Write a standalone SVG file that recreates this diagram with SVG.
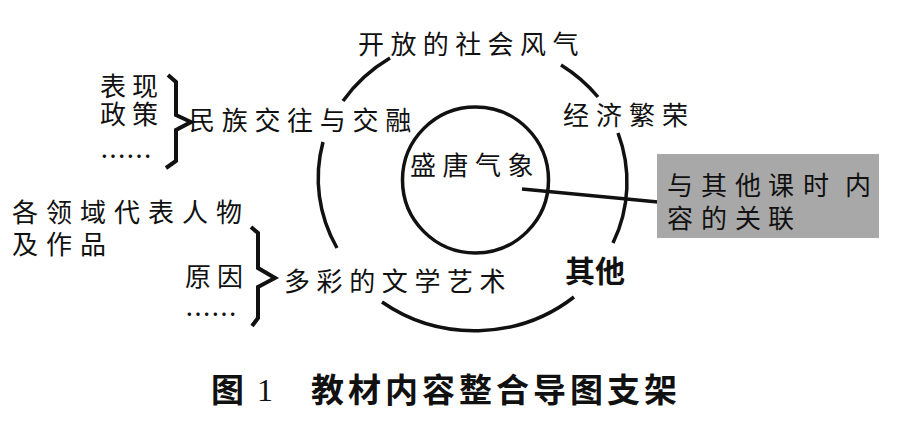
<svg xmlns="http://www.w3.org/2000/svg" width="910" height="424" viewBox="0 0 910 424">
<style>
.t{font-family:"Noto Sans CJK SC","Noto Sans CJK JP",sans-serif;font-size:26px;fill:#111}
.b{font-family:"Noto Sans CJK SC",sans-serif;font-weight:bold;fill:#111}
.ln{fill:none;stroke:#111;stroke-width:3.5;stroke-linecap:butt}
.br{fill:none;stroke:#111;stroke-width:4;stroke-linejoin:miter}
</style>
<rect width="910" height="424" fill="#fff"/>
<g id="outer-ring">
<path class="ln" d="M343 101 A156 147 0 0 1 390 58"/>
<path class="ln" d="M561 65 A156 147 0 0 1 598 97"/>
<path class="ln" d="M618 133 A156 147 0 0 1 613 243"/>
<path class="ln" d="M574 297 A156 147 0 0 1 382 302"/>
<path class="ln" d="M337 248 A156 147 0 0 1 323 142"/>
</g>
<g id="center">
<circle class="ln" cx="475.5" cy="180" r="73" stroke-width="3"/>
<text class="t" x="410" y="175" letter-spacing="6.5">盛唐气象</text>
</g>
<g id="connectors">
<line class="ln" x1="522" y1="189" x2="658" y2="202" stroke-width="3"/>
</g>
<g id="node-open">
<text class="t" x="358" y="54" letter-spacing="6.4">开放的社会风气</text>
</g>
<g id="node-economy">
<text class="t" x="563" y="125" letter-spacing="7">经济繁荣</text>
</g>
<g id="node-ethnic">
<text class="t" x="189" y="130" letter-spacing="6.7">民族交往与交融</text>
<text class="t" letter-spacing="6"><tspan x="100" y="96">表现</tspan><tspan x="100" y="124">政策</tspan><tspan x="100" y="166" letter-spacing="0">……</tspan></text>
<path class="br" d="M168 75 L176 82 L176 115 L191 122 L176 130 L176 161 L166 168"/>
</g>
<g id="node-arts">
<text class="t" x="284" y="291" letter-spacing="6.6">多彩的文学艺术</text>
<text class="t" letter-spacing="8"><tspan x="12" y="222">各领域代表人物</tspan><tspan x="12" y="254">及作品</tspan></text>
<text class="t" letter-spacing="6"><tspan x="185" y="286">原因</tspan><tspan x="185" y="324" letter-spacing="0">……</tspan></text>
<path class="br" d="M251 227 L258 233 L258 268 L275 278 L258 287 L258 318 L252 326"/>
</g>
<g id="node-other">
<text class="b" x="565" y="282" font-size="30">其他</text>
</g>
<g id="node-relation">
<rect x="657" y="154" width="222" height="84" fill="#a8a8a8"/>
<text class="t"><tspan x="667 701 735 768 803 845" y="195">与其他课时内</tspan><tspan x="667 701 735 768" y="228">容的关联</tspan></text>
</g>
<g id="caption">
<text class="b" x="211" y="402" font-size="33">图</text>
<text x="257" y="401" font-family="Liberation Serif,serif" font-size="32" fill="#111">1</text>
<text class="b" x="311" y="402" font-size="33" letter-spacing="4">教材内容整合导图支架</text>
</g>
</svg>
